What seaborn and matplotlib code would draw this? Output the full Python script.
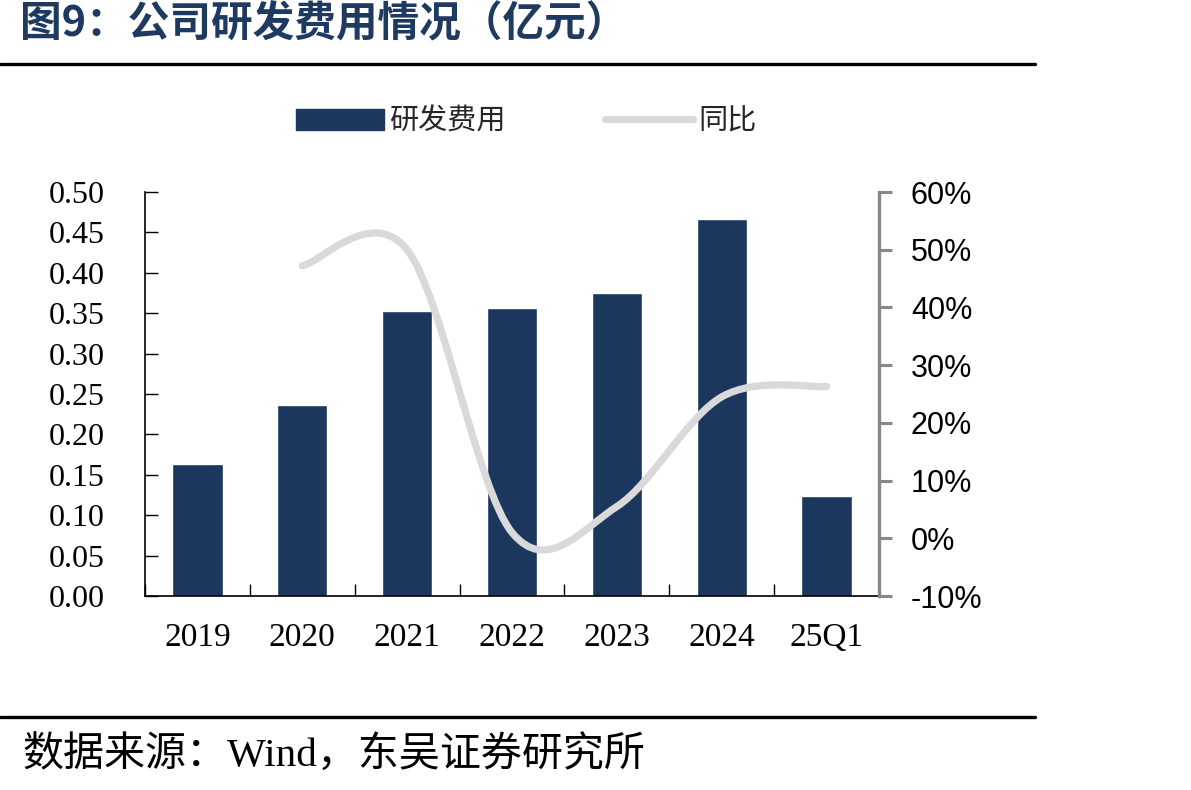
import matplotlib
matplotlib.use("Agg")
import matplotlib.pyplot as plt
import numpy as np
import pandas as pd
import seaborn as sns
from matplotlib.lines import Line2D
from matplotlib.patches import Patch, PathPatch
from matplotlib.path import Path
from matplotlib.ticker import MultipleLocator, PercentFormatter

# Data (亿元 / YoY %)
categories = ["2019", "2020", "2021", "2022", "2023", "2024", "25Q1"]
rd_expense = [0.163, 0.236, 0.353, 0.357, 0.375, 0.466, 0.124]
yoy_cats = ["2020", "2021", "2022", "2023", "2024", "25Q1"]
yoy_pct = [47.2, 50.0, 1.0, 5.5, 24.5, 26.3]

BAR_COLOR = "#1b375d"
LINE_COLOR = "#d9d9d9"
TITLE_COLOR = "#1f3a60"
CJK = ["Noto Sans CJK SC", "DejaVu Sans"]
SERIF = ["Liberation Serif", "Noto Sans CJK SC"]

sns.set_theme(style="white")
plt.rcParams["font.family"] = CJK
plt.rcParams["axes.unicode_minus"] = False

df = pd.DataFrame({"category": categories, "value": rd_expense})

fig = plt.figure(figsize=(11.91, 7.90), dpi=100)
ax = fig.add_axes([145 / 1191, 1 - 596 / 790, (879 - 145) / 1191, (596 - 192) / 790])

sns.barplot(data=df, x="category", y="value", color=BAR_COLOR, width=0.48,
            saturation=1, ax=ax, zorder=2)
ax.set_xlim(-0.5, len(categories) - 0.5)
ax.set_ylim(0, 0.5)
ax.yaxis.set_major_locator(MultipleLocator(0.05))
ax.yaxis.set_major_formatter(plt.FuncFormatter(lambda v, _: f"{v:.2f}"))
ax.set_xlabel("")
ax.set_ylabel("")

# category boundary ticks on the bottom axis
ax.set_xticks(np.arange(len(categories)))
ax.set_xticks(np.arange(-0.5, len(categories)), minor=True)
ax.tick_params(axis="x", which="major", length=0, pad=19, bottom=True, labelcolor="black")
ax.tick_params(axis="x", which="minor", direction="in", length=9, width=1, color="black",
               bottom=True)
ax.tick_params(axis="y", direction="in", length=9, width=1, color="black", pad=29,
               left=True, labelcolor="black")
for lab in ax.get_xticklabels():
    lab.set_fontfamily(SERIF)
    lab.set_fontsize(24)
for lab in ax.get_yticklabels():
    lab.set_fontfamily(SERIF)
    lab.set_fontsize(23)

for side in ["top", "right"]:
    ax.spines[side].set_visible(False)
for side in ["left", "bottom"]:
    ax.spines[side].set_color("black")
    ax.spines[side].set_linewidth(1.2)

# YoY line on right axis, smoothed Bezier through the points
ax2 = ax.twinx()
ax2.set_ylim(-10, 60)
ax2.yaxis.set_major_locator(MultipleLocator(10))
ax2.yaxis.set_major_formatter(PercentFormatter(decimals=0))
ax2.tick_params(axis="y", direction="out", length=9, width=2.2, color="#888888", pad=14,
                right=True, labelcolor="black")
for lab in ax2.get_yticklabels():
    lab.set_fontfamily(["Liberation Sans"])
    lab.set_fontsize(22)
for side in ["top", "left", "bottom"]:
    ax2.spines[side].set_visible(False)
ax2.spines["right"].set_color("#888888")
ax2.spines["right"].set_linewidth(2.4)
ax2.grid(False)
ax.grid(False)

xs = [categories.index(c) for c in yoy_cats]
pts = np.column_stack([xs, yoy_pct]).astype(float)
verts = [tuple(pts[0])]
codes = [Path.MOVETO]
n = len(pts)
for i in range(n - 1):
    p0 = pts[i - 1] if i > 0 else pts[i]
    p1, p2 = pts[i], pts[i + 1]
    p3 = pts[i + 2] if i + 2 < n else pts[i + 1]
    c1 = p1 + (p2 - p0) / 6
    c2 = p2 - (p3 - p1) / 6
    verts += [tuple(c1), tuple(c2), tuple(p2)]
    codes += [Path.CURVE4] * 3
ax2.add_patch(PathPatch(Path(verts, codes), facecolor="none", edgecolor=LINE_COLOR,
                        lw=5.2, capstyle="round", joinstyle="round", zorder=3))

# legend
handles = [Patch(facecolor=BAR_COLOR, edgecolor=BAR_COLOR),
           Line2D([0], [0], color=LINE_COLOR, lw=5.2, solid_capstyle="round")]
fig.legend(handles, ["研发费用", "同比"], loc="center", bbox_to_anchor=(0.442, 0.846),
           ncol=2, frameon=False, prop={"family": CJK, "size": 21},
           handlelength=3.0, handleheight=0.75, handletextpad=0.2, columnspacing=3.4)

# title, rules and source
fig.text(20 / 1191, 1 - 24 / 790, "图9：公司研发费用情况（亿元）", ha="left", va="center",
         fontsize=30, fontweight="bold", color=TITLE_COLOR, family=CJK)
fig.add_artist(Line2D([0, 1035 / 1191], [1 - 64 / 790] * 2, color="black", lw=2.4))
fig.add_artist(Line2D([0, 1035 / 1191], [1 - 717 / 790] * 2, color="black", lw=2.4))
fig.text(22 / 1191, 1 - 756 / 790, "数据来源：Wind，东吴证券研究所", ha="left", va="center",
         fontsize=29.5, color="black", family=SERIF)

fig.savefig("out.png", dpi=100)
